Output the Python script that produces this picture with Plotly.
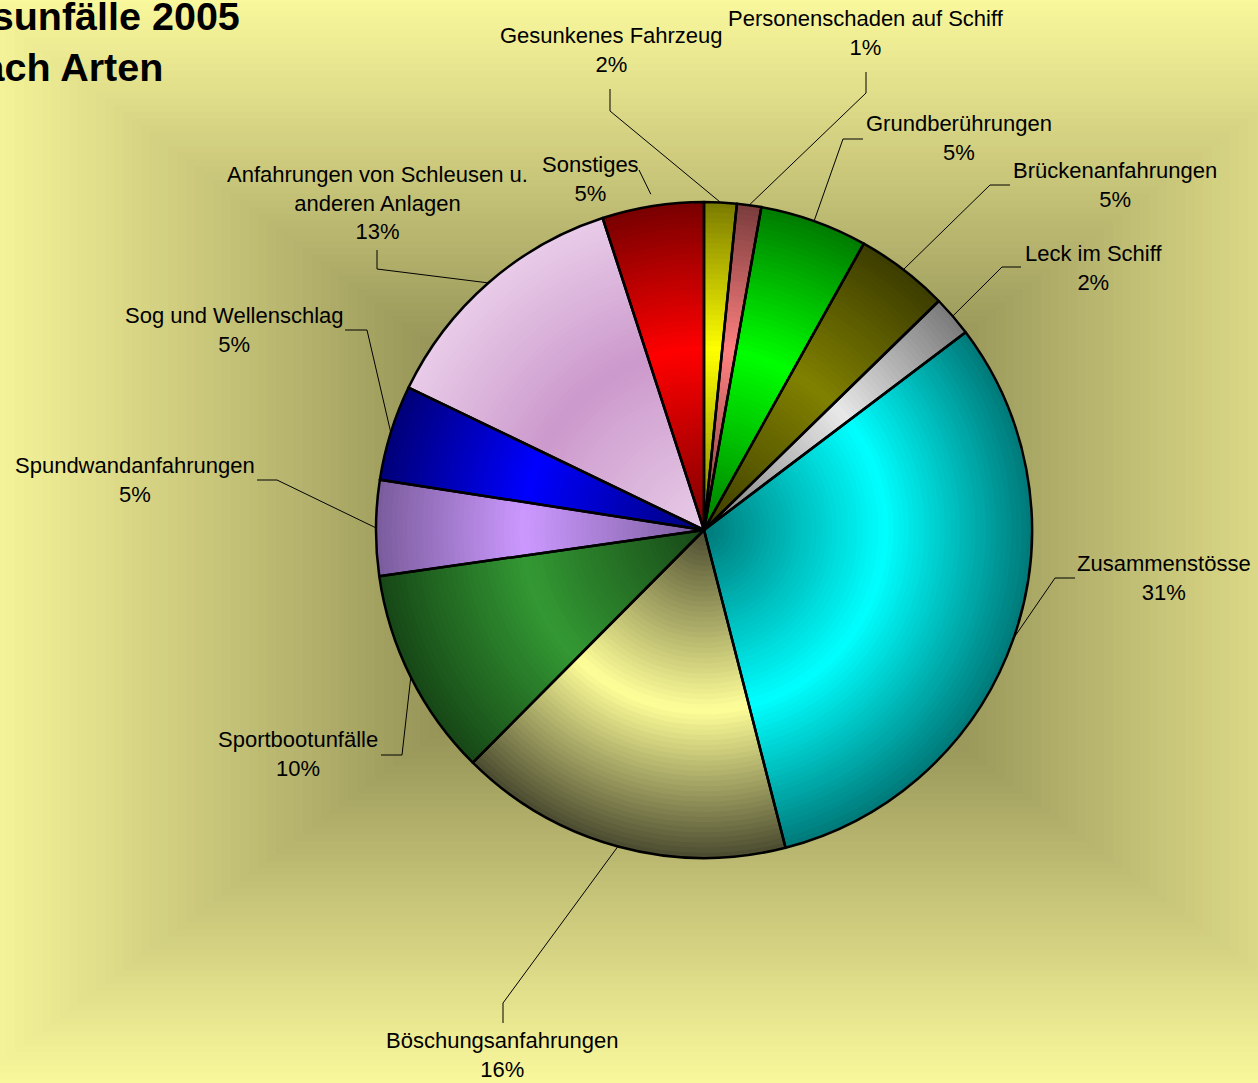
import math
import plotly.graph_objects as go

# Accident categories (clockwise from 12 o'clock) and their shares in percent
categories = [
    "Gesunkenes Fahrzeug",
    "Personenschaden auf Schiff",
    "Grundberührungen",
    "Brückenanfahrungen",
    "Leck im Schiff",
    "Zusammenstösse",
    "Böschungsanfahrungen",
    "Sportbootunfälle",
    "Spundwandanfahrungen",
    "Sog und Wellenschlag",
    "Anfahrungen von Schleusen u.<br>anderen Anlagen",
    "Sonstiges",
]
shares = [1.6, 1.2, 5.3, 4.6, 2.0, 31.3, 16.45, 10.3, 4.7, 4.7, 12.85, 5.0]

title_lines = ["Schiffsunfälle 2005", "nach Arten"]
footer_text = "se"

# Slice shading: colour at slice rim / colour at slice highlight
edge_colors = ["#7a7a00", "#7a3c3c", "#007a00", "#3c3c00", "#7a7a7a", "#007878",
               "#4a4a30", "#174717", "#7a5c9c", "#000078", "#e8cce8", "#780000"]
center_colors = ["#ffff00", "#ff8080", "#00ff00", "#808000", "#e8e8e8", "#00ffff",
                 "#ffff99", "#339933", "#cc99ff", "#0000ff", "#cc99cc", "#ff0000"]

W, H = 1258, 1083
CX, CY, R = 704, 530, 328
FONT = "Liberation Sans, Arial, sans-serif"


def hex_rgb(h):
    h = h.lstrip("#")
    return [int(h[i:i + 2], 16) for i in (0, 2, 4)]


def mix(c0, c1, t):
    a, b = hex_rgb(c0), hex_rgb(c1)
    return "rgb({},{},{})".format(*[round(a[i] + (b[i] - a[i]) * t) for i in range(3)])


def pie_domain(f):
    return dict(x=[(CX - f * R) / W, (CX + f * R) / W],
                y=[1 - (CY + f * R) / H, 1 - (CY - f * R) / H])


fig = go.Figure()

# Invisible pixel-space axes for shapes and annotations
fig.update_xaxes(range=[0, W], visible=False, fixedrange=True)
fig.update_yaxes(range=[H, 0], visible=False, fixedrange=True)
fig.add_trace(go.Scatter(x=[0, W], y=[0, H], mode="markers",
                         marker=dict(opacity=0), hoverinfo="skip", showlegend=False))

# Background: rectangular gradient, dark in the middle, light yellow at the rim
bg_edge = "#faf89c"
bg_mid = "#55522a"
GX, GY, GW, GH = 690, 541, 720, 545
N_BG = 80
shapes = []
for k in range(N_BG):
    d = 1 - k / N_BG
    shapes.append(dict(type="rect", xref="x", yref="y", layer="below",
                       x0=GX - d * GW, x1=GX + d * GW, y0=GY - d * GH, y1=GY + d * GH,
                       line=dict(width=0), fillcolor=mix(bg_mid, bg_edge, d ** 0.9)))

# Pie with shading built from concentric layers
N_LAYERS = 64
PEAK = 0.55
for k in range(N_LAYERS):
    f = 1 - k / N_LAYERS
    fm = f - 0.5 / N_LAYERS
    t = fm / PEAK if fm <= PEAK else (1 - fm) / (1 - PEAK)
    t = max(0.0, min(1.0, t))
    cols = [mix(e, c, t) for e, c in zip(edge_colors, center_colors)]
    fig.add_trace(go.Pie(labels=categories, values=shares, sort=False,
                         direction="clockwise", rotation=0, domain=pie_domain(f),
                         marker=dict(colors=cols, line=dict(width=0)),
                         textinfo="none", hoverinfo="skip", showlegend=False))

# Outline layer
fig.add_trace(go.Pie(labels=categories, values=shares, sort=False,
                     direction="clockwise", rotation=0, domain=pie_domain(1),
                     marker=dict(colors=["rgba(0,0,0,0)"] * len(shares),
                                 line=dict(color="black", width=2.5)),
                     textinfo="none", hovertemplate="%{label}: %{percent}<extra></extra>",
                     showlegend=False))

# Label placement (block centre) and leader-line elbows
label_pos = [(611, 50), (866, 33), (959, 138), (1115, 185), (1093, 268), (1164, 578),
             (502, 1055), (298, 754), (135, 480), (234, 330), (377, 203), (590, 179)]
leader_pts = [
    [(610, 89), (610, 111)],
    [(866, 72), (866, 93)],
    [(863, 139), (843, 139)],
    [(1010, 185), (990, 185)],
    [(1021, 267), (1002, 267)],
    [(1075, 578), (1055, 578)],
    [(503, 1023), (503, 1003)],
    [(381, 755), (402, 755)],
    [(257, 480), (277, 480)],
    [(345, 330), (367, 330)],
    [(377, 250), (377, 269)],
    [(639, 170)],
]
leader_gap = [0, 0, 0, 0, 0, 0, 0, 0, 0, 0, 0, 12]

total = sum(shares)
cum = 0.0
annotations = []
for i, (name, v) in enumerate(zip(categories, shares)):
    mid = (cum + v / 2) / total
    cum += v
    ang = 2 * math.pi * mid
    rr = R + leader_gap[i]
    ex, ey = CX + rr * math.sin(ang), CY - rr * math.cos(ang)
    pts = leader_pts[i] + [(ex, ey)]
    path = "M " + " L ".join(f"{x:.1f},{y:.1f}" for x, y in pts)
    shapes.append(dict(type="path", xref="x", yref="y", layer="above", path=path,
                       line=dict(color="black", width=1)))
    pct = round(100 * v / total)
    lx, ly = label_pos[i]
    annotations.append(dict(x=lx, y=ly, xref="x", yref="y", showarrow=False,
                            text=f"{name}<br>{pct}%", align="center",
                            xanchor="center", yanchor="middle",
                            font=dict(family=FONT, size=22, color="black")))

annotations.append(dict(x=61, y=41, xref="x", yref="y", showarrow=False,
                        text="<b>" + "<br>".join(title_lines) + "</b>", align="center",
                        xanchor="center", yanchor="middle",
                        font=dict(family=FONT, size=39.5, color="black")))
annotations.append(dict(x=-1, y=1055, xref="x", yref="y", showarrow=False,
                        text=footer_text, xanchor="left", yanchor="middle",
                        font=dict(family=FONT, size=22, color="black")))

fig.update_layout(width=W, height=H, margin=dict(l=0, r=0, t=0, b=0),
                  paper_bgcolor=bg_edge, plot_bgcolor="rgba(0,0,0,0)",
                  shapes=shapes, annotations=annotations)

fig.write_html("out.html", config={"displayModeBar": False})
